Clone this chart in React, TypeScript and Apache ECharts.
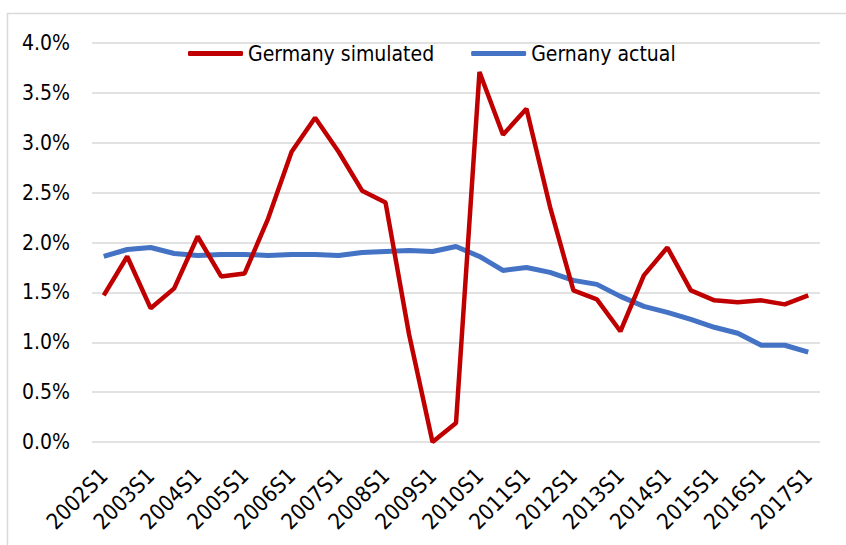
import React, { useEffect, useRef } from "react";
import * as echarts from "echarts";

const categories: string[] = [];
for (let y = 2002; y <= 2017; y++) {
  categories.push(`${y}S1`);
  if (y < 2017) categories.push(`${y}S2`);
}

const simulated = [
  1.47, 1.86, 1.34, 1.54, 2.06, 1.66, 1.69, 2.24, 2.91, 3.25, 2.91, 2.52, 2.40, 1.08, 0.0, 0.19,
  3.71, 3.08, 3.34, 2.36, 1.52, 1.43, 1.11, 1.67, 1.95, 1.52, 1.42, 1.40, 1.42, 1.38, 1.47,
];
const actual = [
  1.86, 1.93, 1.95, 1.89, 1.87, 1.88, 1.88, 1.87, 1.88, 1.88, 1.87, 1.90, 1.91, 1.92, 1.91, 1.96,
  1.86, 1.72, 1.75, 1.70, 1.62, 1.58, 1.46, 1.36, 1.30, 1.23, 1.15, 1.09, 0.97, 0.97, 0.90,
];
const seriesNames = ["Germany simulated", "Gernany actual"];
const colors = ["#C00000", "#4472C4"];

const FONT = "'DejaVu Sans Condensed', 'DejaVu Sans', sans-serif";

export default function App() {
  const ref = useRef<HTMLDivElement>(null);
  useEffect(() => {
    if (!ref.current) return;
    const chart = echarts.init(ref.current, null, { renderer: "svg" });
    chart.setOption({
      animation: false,
      backgroundColor: "#ffffff",
      textStyle: { fontFamily: FONT },
      graphic: [
        {
          type: "rect",
          shape: { x: 7.5, y: 13.5, width: 900, height: 600 },
          style: { fill: "none", stroke: "#d9d9d9", lineWidth: 1.5 },
          silent: true,
        },
      ],
      grid: { left: 92, right: 26, top: 43, bottom: 103, containLabel: false },
      legend: {
        left: 183,
        top: 38,
        itemWidth: 55,
        itemHeight: 5,
        itemGap: 37,
        icon: "roundRect",
        textStyle: { fontFamily: FONT, fontSize: 21, color: "#000" },
        data: seriesNames,
      },
      xAxis: {
        type: "category",
        data: categories,
        boundaryGap: true,
        axisLine: { show: false },
        axisTick: { show: false },
        axisLabel: {
          interval: 1,
          rotate: 45,
          fontFamily: FONT,
          fontSize: 22,
          color: "#000",
          margin: 30,
        },
      },
      yAxis: {
        type: "value",
        min: 0,
        max: 4,
        interval: 0.5,
        axisLine: { show: false },
        axisTick: { show: false },
        splitLine: { lineStyle: { color: "#d9d9d9", width: 1.5 } },
        axisLabel: {
          formatter: (v: number) => v.toFixed(1) + "%",
          fontFamily: FONT,
          fontSize: 21,
          color: "#000",
          margin: 22,
        },
      },
      series: [
        {
          name: seriesNames[0],
          type: "line",
          data: simulated,
          symbol: "none",
          color: colors[0],
          lineStyle: { width: 4.5, color: colors[0] },
          z: 3,
        },
        {
          name: seriesNames[1],
          type: "line",
          data: actual,
          symbol: "none",
          color: colors[1],
          lineStyle: { width: 5, color: colors[1] },
          z: 2,
        },
      ],
    });
    return () => chart.dispose();
  }, []);
  return <div ref={ref} style={{ width: 846, height: 545, position: "absolute", left: 0, top: 0 }} />;
}
